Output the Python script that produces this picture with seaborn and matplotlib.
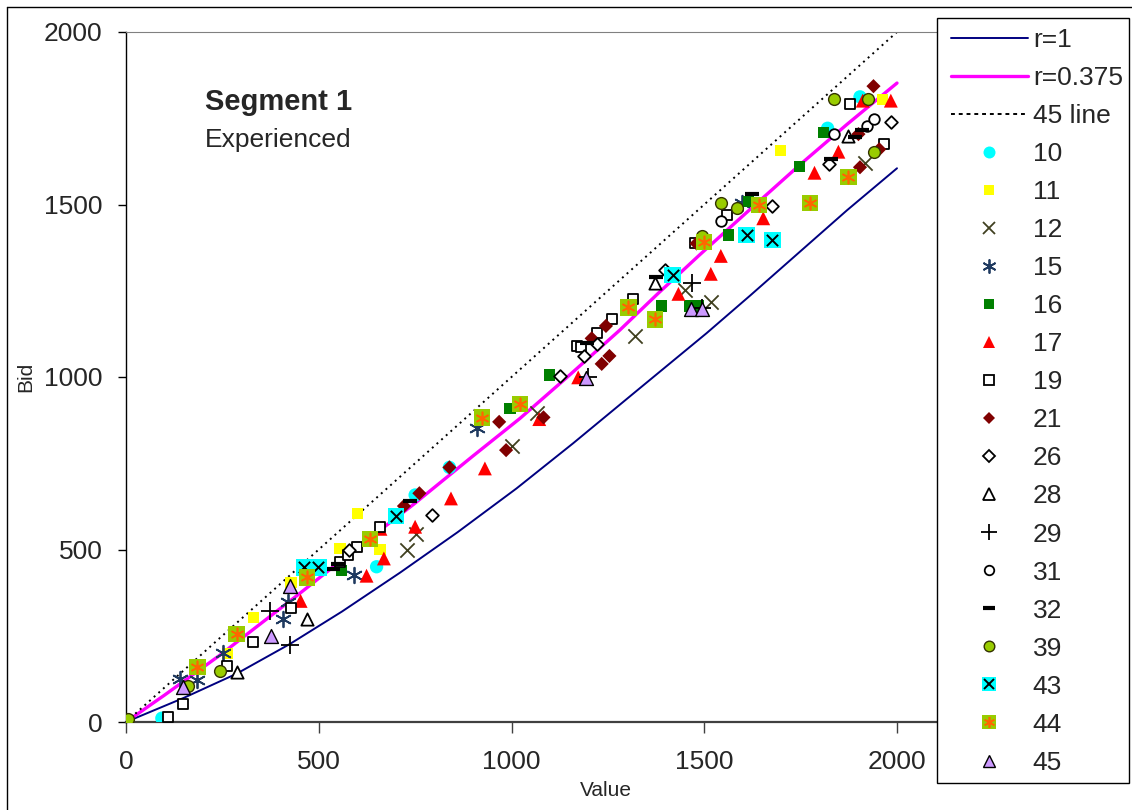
import numpy as np
import pandas as pd
import matplotlib
matplotlib.use("Agg")
import matplotlib.pyplot as plt
import seaborn as sns
from matplotlib.lines import Line2D
from matplotlib.patches import Rectangle

# equilibrium curves
curve_r1_v = [0, 150, 287, 425, 560, 711, 860, 1013, 1160, 1316, 1506, 1620, 1748, 1870, 2000]
curve_r1_b = [0, 70, 140, 226, 320, 433, 550, 677, 808, 952, 1127, 1237, 1363, 1483, 1605]
curve_r375_v = [0, 100, 244, 451, 600, 745, 900, 1022, 1150, 1281, 1380, 1489, 1620, 1748, 1870, 2000]
curve_r375_b = [0, 78, 194, 373, 505, 630, 771, 880, 1005, 1136, 1242, 1355, 1487, 1615, 1732, 1852]
line45_v = [0, 2000]
line45_b = [0, 2000]

# subject bids: value / bid
v10 = [93, 650, 750, 839, 1820, 1904]
b10 = [11, 450, 658, 738, 1721, 1812]
v11 = [263, 330, 428, 555, 600, 659, 1697, 1963]
b11 = [199, 303, 405, 503, 605, 500, 1656, 1805]
v12 = [0, 728, 751, 1000, 1065, 1320, 1450, 1517, 1917]
b12 = [0, 499, 545, 800, 897, 1119, 1252, 1218, 1619]
v15 = [140, 183, 252, 406, 419, 591, 910, 1597]
b15 = [124, 122, 199, 298, 349, 426, 851, 1503]
v16 = [559, 996, 1098, 1390, 1461, 1485, 1562, 1615, 1747, 1809]
b16 = [439, 909, 1006, 1206, 1206, 1206, 1412, 1508, 1610, 1708]
v17 = [453, 624, 660, 669, 750, 843, 931, 1072, 1173, 1433, 1517, 1543, 1653,
       1786, 1848, 1911, 1984]
b17 = [351, 424, 560, 474, 566, 648, 735, 878, 999, 1241, 1299, 1351, 1460,
       1592, 1653, 1801, 1801]
v19 = [110, 147, 261, 330, 428, 555, 577, 600, 659, 1170, 1179, 1223, 1261,
       1316, 1475, 1560, 1878, 1966]
b19 = [15, 52, 163, 232, 329, 463, 484, 508, 564, 1090, 1086, 1127, 1169,
       1225, 1388, 1471, 1790, 1675]
v21 = [721, 761, 839, 968, 986, 1083, 1208, 1234, 1245, 1254, 1480, 1900,
       1904, 1939, 1954]
b21 = [626, 663, 738, 870, 788, 883, 1112, 1038, 1148, 1061, 1387, 1704,
       1608, 1843, 1660]
v26 = [579, 793, 1126, 1188, 1221, 1398, 1677, 1824, 1984]
b26 = [499, 600, 1004, 1061, 1096, 1310, 1496, 1617, 1740]
v28 = [287, 470, 1372, 1874]
b28 = [146, 300, 1273, 1699]
v29 = [374, 425, 1199, 1467, 1495]
b29 = [322, 223, 1001, 1273, 1200]
v31 = [1543, 1837, 1921, 1941]
b31 = [1452, 1703, 1728, 1748]
v32 = [538, 551, 737, 1195, 1376, 1623, 1828, 1891, 1908]
b32 = [443, 458, 641, 1098, 1289, 1530, 1633, 1697, 1716]
v39 = [5, 160, 244, 1493, 1543, 1586, 1837, 1926, 1941]
b39 = [10, 104, 149, 1409, 1503, 1489, 1805, 1805, 1653]
v43 = [462, 499, 700, 1418, 1610, 1677]
b43 = [448, 448, 597, 1296, 1412, 1397]
v44 = [185, 287, 470, 633, 924, 1022, 1303, 1372, 1500, 1642, 1774, 1874]
b44 = [160, 255, 419, 530, 882, 922, 1202, 1167, 1392, 1499, 1505, 1579]
v45 = [147, 375, 425, 1193, 1465, 1494]
b45 = [101, 249, 394, 998, 1196, 1196]

ASTER = (6, 2, 0)

# label, values, bids, marker layers (marker, size, face, edge, lw)
SERIES = [
    ("10", v10, b10, [("o", 92, "#00FFFF", "none", 0)]),
    ("11", v11, b11, [("s", 66, "#FFFF00", "none", 0)]),
    ("12", v12, b12, [("x", 105, "#404020", None, 1.3)]),
    ("15", v15, b15, [(ASTER, 125, "#1F3A60", None, 1.3)]),
    ("16", v16, b16, [("s", 66, "#008000", "none", 0)]),
    ("17", v17, b17, [("^", 100, "#FF0000", "none", 0)]),
    ("19", v19, b19, [("s", 60, "white", "black", 1.3)]),
    ("21", v21, b21, [("D", 52, "#800000", "none", 0)]),
    ("26", v26, b26, [("D", 42, "white", "black", 1.3)]),
    ("28", v28, b28, [("^", 78, "white", "black", 1.3)]),
    ("29", v29, b29, [("+", 175, "black", None, 1.3)]),
    ("31", v31, b31, [("o", 58, "white", "black", 1.3)]),
    ("32", v32, b32, [("_", 105, "black", None, 3)]),
    ("39", v39, b39, [("o", 72, "#99CC00", "#333300", 1)]),
    ("43", v43, b43, [("s", 140, "#00FFFF", "none", 0), ("x", 66, "black", None, 1.4)]),
    ("44", v44, b44, [("s", 140, "#99CC00", "none", 0), (ASTER, 78, "#FF6600", None, 1.2)]),
    ("45", v45, b45, [("^", 100, "#CC99FF", "black", 1)]),
]

sns.set_theme(style="white")
plt.rcParams["font.family"] = ["Liberation Sans", "DejaVu Sans"]

W, H = 1132, 810
fig = plt.figure(figsize=(W / 100, H / 100), dpi=100)
fig.patch.set_facecolor("white")

# axes placed in pixel terms of the reference
x0, x1, y0, y1 = 126, 937, 722, 32
ax = fig.add_axes([x0 / W, 1 - y0 / H, (x1 - x0) / W, (y0 - y1) / H])
ax.set_facecolor("white")

sns.lineplot(x=curve_r1_v, y=curve_r1_b, ax=ax, color="#000080", linewidth=1.4,
             estimator=None, sort=False, legend=False, zorder=2)
sns.lineplot(x=curve_r375_v, y=curve_r375_b, ax=ax, color="#FF00FF", linewidth=2.4,
             estimator=None, sort=False, legend=False, zorder=2)
sns.lineplot(x=line45_v, y=line45_b, ax=ax, color="black", linewidth=1.4,
             linestyle=(0, (1, 2.2)), estimator=None, sort=False, legend=False, zorder=2)

handles = [
    Line2D([], [], color="#000080", linewidth=1.4),
    Line2D([], [], color="#FF00FF", linewidth=2.4),
    Line2D([], [], color="black", linewidth=1.4, linestyle=(0, (2, 2))),
]
labels = ["r=1", "r=0.375", "45 line"]

z = 3
for lab, vals, bids, layers in SERIES:
    parts = []
    for mk, size, face, edge, lw in layers:
        kw = dict(x=vals, y=bids, ax=ax, marker=mk, s=size, color=face,
                  linewidth=lw, legend=False, zorder=z)
        if edge is not None:
            kw["edgecolor"] = edge
        sns.scatterplot(**kw)
        z += 0.1
        ms = np.sqrt(size) * 0.9
        if edge is None:
            h = Line2D([], [], linestyle="none", marker=mk, markersize=ms,
                       color=face, markeredgewidth=lw)
        else:
            h = Line2D([], [], linestyle="none", marker=mk, markersize=ms,
                       markerfacecolor=face,
                       markeredgecolor=face if edge == "none" else edge,
                       markeredgewidth=lw)
        parts.append(h)
    handles.append(tuple(parts) if len(parts) > 1 else parts[0])
    labels.append(lab)

ax.set_xlim(0, (x1 - x0) / 0.3855)
ax.set_ylim(0, 2000)
ax.set_xticks([0, 500, 1000, 1500, 2000])
ax.set_yticks([0, 500, 1000, 1500, 2000])
ax.tick_params(axis="x", direction="out", length=8, width=1, color="#404040",
               pad=12, labelsize=19, bottom=True)
ax.tick_params(axis="y", direction="out", length=6, width=1, color="black",
               pad=11, labelsize=19, left=True)

ax.spines["left"].set_color("black")
ax.spines["left"].set_linewidth(1.0)
ax.spines["bottom"].set_color("#404040")
ax.spines["bottom"].set_linewidth(1.6)
ax.spines["top"].set_color("#808080")
ax.spines["top"].set_linewidth(0.8)
ax.spines["right"].set_visible(False)
ax.grid(False)

ax.set_xlabel("Value", fontsize=15)
ax.xaxis.set_label_coords((606 - x0) / (x1 - x0), (y0 - 781) / (y0 - y1))
ax.set_ylabel("Bid", fontsize=15)
ax.yaxis.set_label_coords((35 - x0) / (x1 - x0), 0.5)

ax.text((205 - x0) / (x1 - x0), (y0 - 110) / (y0 - y1), "Segment 1",
        transform=ax.transAxes, fontsize=21, fontweight="bold", va="baseline")
ax.text((205 - x0) / (x1 - x0), (y0 - 147) / (y0 - y1), "Experienced",
        transform=ax.transAxes, fontsize=19, va="baseline")

# legend box and outer chart border
fig.patches.append(Rectangle((937 / W, 1 - 783 / H), (1129 - 937) / W, (783 - 18) / H,
                             transform=fig.transFigure, facecolor="white",
                             edgecolor="black", linewidth=1, zorder=4))
fig.lines.append(Line2D([7 / W, 7 / W], [0, 1 - 7 / H], transform=fig.transFigure,
                        color="black", linewidth=1))
fig.lines.append(Line2D([7 / W, 1], [1 - 7 / H, 1 - 7 / H], transform=fig.transFigure,
                        color="black", linewidth=1))

leg = fig.legend(handles, labels, loc="upper left",
                 bbox_to_anchor=(951 / W, 1 - 28 / H), frameon=False,
                 fontsize=19, handlelength=2.9, handletextpad=0.2,
                 labelspacing=0.532, borderpad=0, borderaxespad=0)
leg.set_zorder(5)

fig.savefig("out.png", dpi=100, facecolor="white")
